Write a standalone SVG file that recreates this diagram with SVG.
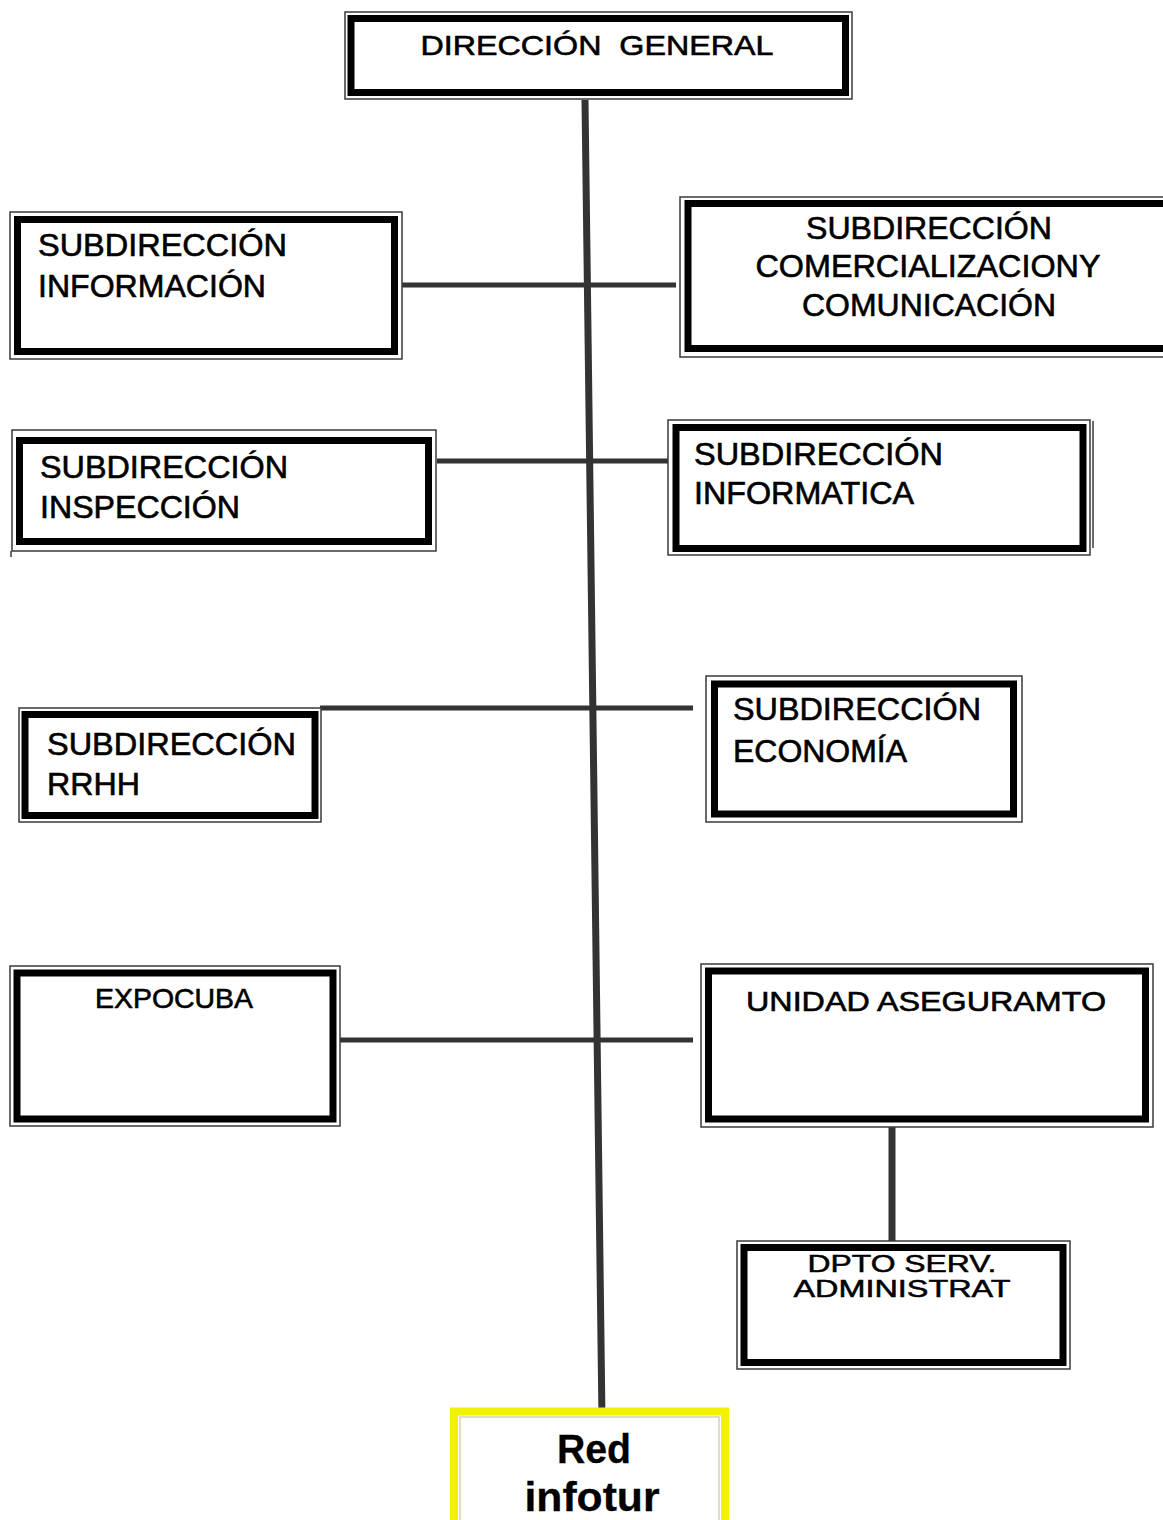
<svg xmlns="http://www.w3.org/2000/svg" width="1163" height="1520" viewBox="0 0 1163 1520">
  <style>
    .frame { fill: #ffffff; stroke: #3a3a3a; stroke-width: 1.5; }
    .band { fill: none; stroke: #000000; stroke-width: 7; }
    .label { font-family: "Liberation Sans", Arial, sans-serif; font-size: 31px; fill: #000000; stroke: #000000; stroke-width: 0.6; white-space: pre; }
    .mid { text-anchor: middle; }
    .small { font-size: 28px; }
    .tiny { font-size: 23px; stroke-width: 0.5; }
    .bold { font-weight: bold; font-size: 40px; stroke-width: 0.3; }
    .link { stroke: #333333; stroke-width: 5; fill: none; }
    .trunk { stroke: #333333; stroke-width: 7; fill: none; }
  </style>

  <rect x="0" y="0" width="1163" height="1520" fill="#ffffff"/>

  <!-- connectors -->
  <g id="connectors">
    <line class="link" x1="398" y1="285" x2="676" y2="285"/>
    <line class="link" x1="437" y1="461" x2="694" y2="461"/>
    <line class="link" x1="320" y1="708" x2="693" y2="708"/>
    <line class="link" x1="330" y1="1040" x2="693" y2="1040"/>
    <line class="trunk" x1="585" y1="100" x2="602" y2="1419"/>
    <line class="trunk" x1="892" y1="1127" x2="892" y2="1243"/>
  </g>

  <!-- top level -->
  <g id="direccion-general">
    <rect class="frame" x="345" y="12" width="507" height="87"/>
    <rect class="band" x="351" y="18.5" width="494.5" height="74"/>
    <text class="label small mid" x="597" y="55" textLength="353" lengthAdjust="spacingAndGlyphs">DIRECCIÓN  GENERAL</text>
  </g>

  <g id="sub-informacion">
    <rect class="frame" x="10" y="212" width="392" height="147"/>
    <rect class="band" x="17.5" y="219.5" width="377" height="132"/>
    <text class="label" x="38" y="256" textLength="249" lengthAdjust="spacingAndGlyphs">SUBDIRECCIÓN</text>
    <text class="label" x="38" y="297" textLength="228" lengthAdjust="spacingAndGlyphs">INFORMACIÓN</text>
  </g>

  <g id="sub-comercializacion">
    <rect class="frame" x="680" y="197" width="500" height="160"/>
    <rect class="band" x="688" y="203.5" width="490" height="145"/>
    <text class="label mid" x="929" y="239" textLength="246" lengthAdjust="spacingAndGlyphs">SUBDIRECCIÓN</text>
    <text class="label mid" x="928" y="277" textLength="345" lengthAdjust="spacingAndGlyphs">COMERCIALIZACIONY</text>
    <text class="label mid" x="929" y="316" textLength="254" lengthAdjust="spacingAndGlyphs">COMUNICACIÓN</text>
  </g>

  <g id="sub-inspeccion">
    <rect class="frame" x="12" y="430" width="424" height="121"/>
    <rect class="band" x="19.5" y="440.5" width="409" height="101"/>
    <line x1="11" y1="551" x2="11" y2="557" stroke="#3a3a3a" stroke-width="1.5"/>
    <text class="label" x="40" y="478" textLength="248" lengthAdjust="spacingAndGlyphs">SUBDIRECCIÓN</text>
    <text class="label" x="40" y="518" textLength="200" lengthAdjust="spacingAndGlyphs">INSPECCIÓN</text>
  </g>

  <g id="sub-informatica">
    <rect class="frame" x="668" y="420" width="422" height="135"/>
    <rect class="band" x="676" y="427.5" width="407" height="121"/>
    <line x1="1093" y1="421" x2="1093" y2="548" stroke="#3a3a3a" stroke-width="1.5"/>
    <text class="label" x="694" y="465" textLength="249" lengthAdjust="spacingAndGlyphs">SUBDIRECCIÓN</text>
    <text class="label" x="694" y="504" textLength="220" lengthAdjust="spacingAndGlyphs">INFORMATICA</text>
  </g>

  <g id="sub-rrhh">
    <rect class="frame" x="19" y="708" width="302" height="114"/>
    <rect class="band" x="25" y="714.5" width="290" height="101"/>
    <text class="label" x="47" y="755" textLength="249" lengthAdjust="spacingAndGlyphs">SUBDIRECCIÓN</text>
    <text class="label" x="47" y="795" textLength="93" lengthAdjust="spacingAndGlyphs">RRHH</text>
  </g>

  <g id="sub-economia">
    <rect class="frame" x="706" y="676" width="316" height="146"/>
    <rect class="band" x="714.5" y="684" width="299" height="130"/>
    <text class="label" x="733" y="720" textLength="248" lengthAdjust="spacingAndGlyphs">SUBDIRECCIÓN</text>
    <text class="label" x="733" y="762" textLength="174" lengthAdjust="spacingAndGlyphs">ECONOMÍA</text>
  </g>

  <g id="expocuba">
    <rect class="frame" x="10" y="966" width="330" height="160"/>
    <rect class="band" x="17" y="973" width="316" height="146"/>
    <text class="label small mid" x="174" y="1008" textLength="158" lengthAdjust="spacingAndGlyphs">EXPOCUBA</text>
  </g>

  <g id="unidad-aseguramiento">
    <rect class="frame" x="701" y="964" width="452" height="163"/>
    <rect class="band" x="708.5" y="971" width="437" height="148"/>
    <text class="label small mid" x="926" y="1011" textLength="360" lengthAdjust="spacingAndGlyphs">UNIDAD ASEGURAMTO</text>
  </g>

  <g id="dpto-servicios">
    <rect class="frame" x="737" y="1241" width="333" height="128"/>
    <rect class="band" x="744" y="1247.5" width="319" height="115"/>
    <text class="label tiny mid" x="902" y="1272" textLength="189" lengthAdjust="spacingAndGlyphs">DPTO SERV.</text>
    <text class="label tiny mid" x="902" y="1297" textLength="217" lengthAdjust="spacingAndGlyphs">ADMINISTRAT</text>
  </g>

  <g id="red-infotur">
    <rect x="454" y="1411.5" width="271" height="130" fill="#ffffff" stroke="#f2f200" stroke-width="8"/>
    <rect x="460" y="1417" width="259" height="120" fill="none" stroke="#c8c8a0" stroke-width="1.2"/>
    <text class="label bold mid" x="594" y="1463" textLength="74" lengthAdjust="spacingAndGlyphs">Red</text>
    <text class="label bold mid" x="592" y="1511" textLength="135" lengthAdjust="spacingAndGlyphs">infotur</text>
  </g>
</svg>
